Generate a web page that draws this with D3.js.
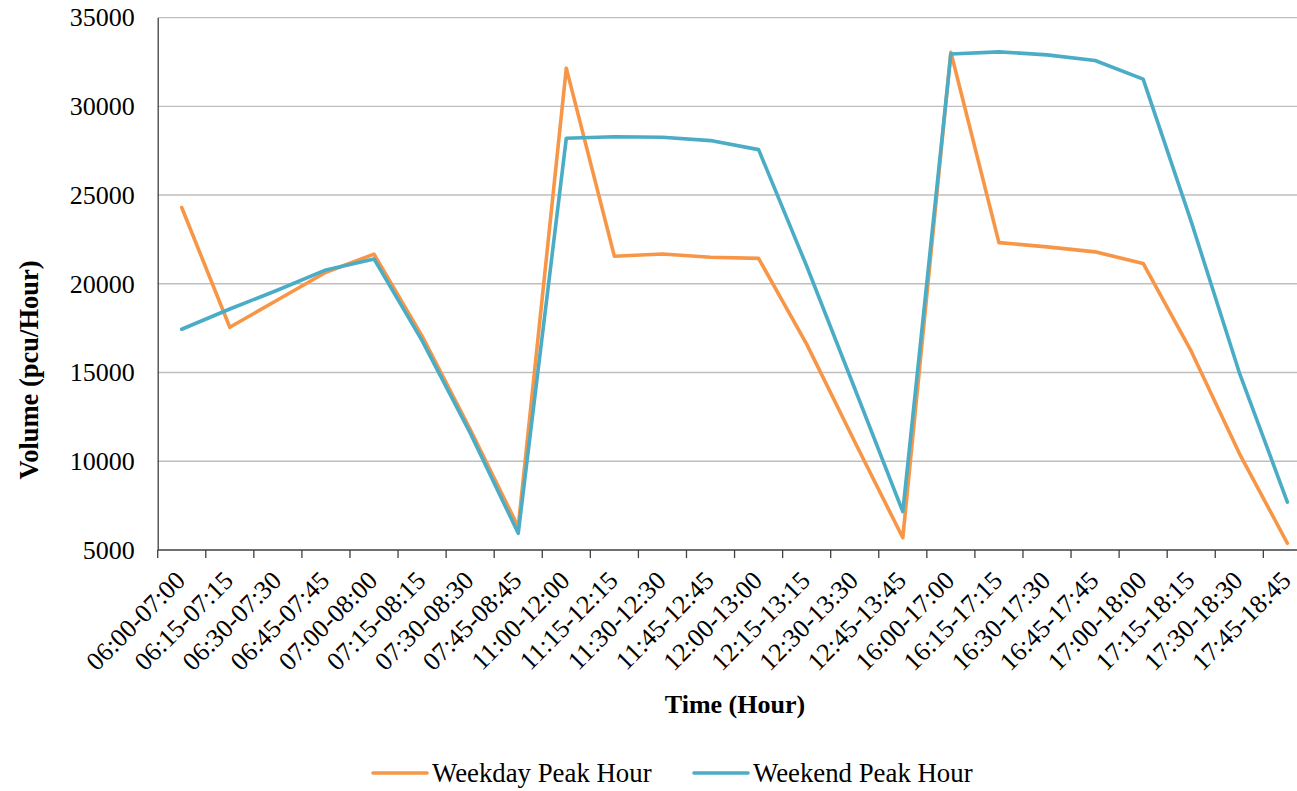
<!DOCTYPE html>
<html>
<head>
<meta charset="utf-8">
<script src="https://cdn.jsdelivr.net/npm/d3@7"></script>
<style>
  html, body { margin: 0; padding: 0; background: #fff; overflow: hidden; }
  svg { display: block; font-family: "Liberation Serif", "Times New Roman", serif; }
</style>
</head>
<body>
<svg id="chart" width="1297" height="791"></svg>
<script>
// Time windows (one hour, sliding by 15 minutes)
const categories = [
  "06:00-07:00","06:15-07:15","06:30-07:30","06:45-07:45","07:00-08:00","07:15-08:15",
  "07:30-08:30","07:45-08:45","11:00-12:00","11:15-12:15","11:30-12:30","11:45-12:45",
  "12:00-13:00","12:15-13:15","12:30-13:30","12:45-13:45","16:00-17:00","16:15-17:15",
  "16:30-17:30","16:45-17:45","17:00-18:00","17:15-18:15","17:30-18:30","17:45-18:45"
];

// Volumes in pcu/hour
const weekday = [
  24300, 17550, 19100, 20650, 21670, 17050, 11800, 6300,
  32150, 21550, 21680, 21500, 21430, 16600, 11100, 5690,
  33050, 22320, 22080, 21800, 21150, 16200, 10450, 5380
];
const weekend = [
  17440, 18580, 19650, 20780, 21400, 16800, 11600, 5940,
  28200, 28290, 28260, 28070, 27560, 21000, 14100, 7160,
  32950, 33070, 32900, 32580, 31530, 23500, 15000, 7700
];

const yTicks = [5000, 10000, 15000, 20000, 25000, 30000, 35000];

const seriesNames = ["Weekday Peak Hour", "Weekend Peak Hour"];
const seriesColors = ["#F79646", "#4BACC6"];

const svg = d3.select("#chart");

const plotLeft = 157.7, plotRight = 1311.4, plotTop = 17.6, plotBottom = 550;

const x = d3.scaleBand().domain(categories).range([plotLeft, plotRight]).padding(0);
const y = d3.scaleLinear().domain([5000, 35000]).range([plotBottom, plotTop]);

// Horizontal gridlines
svg.append("g")
  .selectAll("line")
  .data(yTicks.slice(1))
  .join("line")
  .attr("x1", plotLeft).attr("x2", plotRight)
  .attr("y1", d => y(d)).attr("y2", d => y(d))
  .attr("stroke", "#BEBEBE").attr("stroke-width", 1.4);

// Y axis
const yAxis = svg.append("g")
  .attr("transform", `translate(${plotLeft},0)`)
  .call(d3.axisLeft(y).tickValues(yTicks).tickSize(0).tickPadding(23).tickFormat(d3.format("d")));
yAxis.attr("font-family", null).attr("font-size", null);
yAxis.select(".domain").attr("stroke", "#404040").attr("stroke-width", 1.3);
yAxis.selectAll("text")
  .attr("font-size", 26).attr("fill", "#000");

// X axis: line and tick marks at category boundaries
const xg = svg.append("g");
xg.append("line")
  .attr("x1", plotLeft).attr("x2", plotRight)
  .attr("y1", plotBottom).attr("y2", plotBottom)
  .attr("stroke", "#404040").attr("stroke-width", 1.3);
const boundaries = categories.map(c => x(c)).concat([x(categories[categories.length - 1]) + x.bandwidth()]);
xg.selectAll("line.tick")
  .data(boundaries)
  .join("line")
  .attr("class", "tick")
  .attr("x1", d => d).attr("x2", d => d)
  .attr("y1", plotBottom).attr("y2", plotBottom + 8)
  .attr("stroke", "#404040").attr("stroke-width", 1.3);

// Rotated category labels
xg.selectAll("text")
  .data(categories)
  .join("text")
  .attr("transform", d => `translate(${x(d) + x.bandwidth() / 2 + 5},${plotBottom + 32}) rotate(-45)`)
  .attr("text-anchor", "end")
  .attr("font-size", 26)
  .attr("fill", "#000")
  .text(d => d);

// Axis titles
svg.append("text")
  .attr("x", 735).attr("y", 713)
  .attr("text-anchor", "middle")
  .attr("font-size", 26).attr("font-weight", "bold")
  .text("Time (Hour)");

svg.append("text")
  .attr("transform", "translate(38,370) rotate(-90)")
  .attr("text-anchor", "middle")
  .attr("font-size", 26.5).attr("font-weight", "bold")
  .text("Volume (pcu/Hour)");

// Series lines
const line = d3.line()
  .x((d, i) => x(categories[i]) + x.bandwidth() / 2)
  .y(d => y(d));

[weekday, weekend].forEach((vals, k) => {
  svg.append("path")
    .datum(vals)
    .attr("d", line)
    .attr("fill", "none")
    .attr("stroke", seriesColors[k])
    .attr("stroke-width", 3.6)
    .attr("stroke-linejoin", "round")
    .attr("stroke-linecap", "round");
});

// Legend
const legendItems = [{ x: 373, name: seriesNames[0], color: seriesColors[0] },
                     { x: 694, name: seriesNames[1], color: seriesColors[1] }];
const lg = svg.append("g");
legendItems.forEach(it => {
  lg.append("line")
    .attr("x1", it.x).attr("x2", it.x + 54)
    .attr("y1", 773).attr("y2", 773)
    .attr("stroke", it.color).attr("stroke-width", 3.6).attr("stroke-linecap", "round");
  lg.append("text")
    .attr("x", it.x + 59).attr("y", 782)
    .attr("font-size", 26.8).attr("fill", "#000")
    .text(it.name);
});
</script>
</body>
</html>
